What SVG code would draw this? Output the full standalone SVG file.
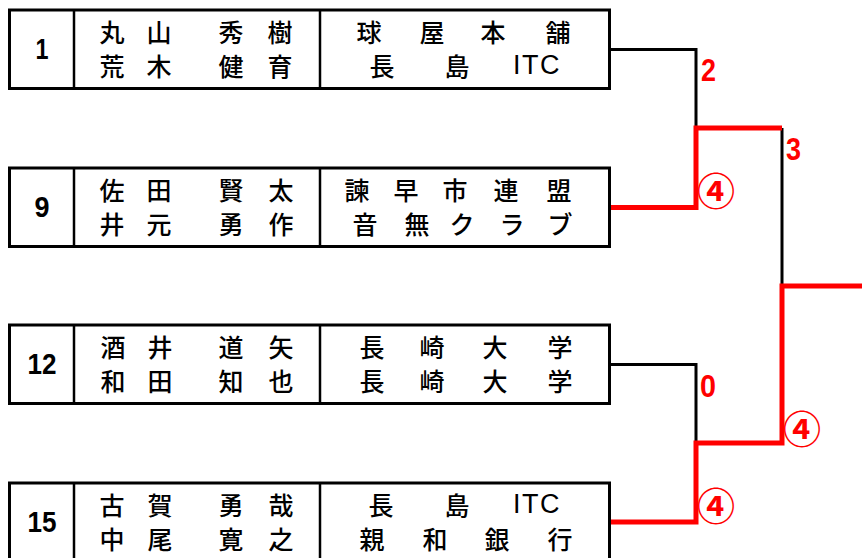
<svg xmlns="http://www.w3.org/2000/svg" width="862" height="558" viewBox="0 0 862 558">
<style>
.box{fill:#fff;stroke:#000;stroke-width:3}
.div{stroke:#000;stroke-width:2.5}
.jp{font-family:"Noto Sans CJK JP","Noto Sans CJK SC",sans-serif;font-size:25px;font-weight:500;fill:#000;text-anchor:middle;dominant-baseline:central}
.lat{font-family:"Liberation Sans",Arial,sans-serif;font-size:27px;font-weight:normal;letter-spacing:1.5px}
.num{font-family:"Liberation Sans",Arial,sans-serif;font-size:30px;font-weight:bold;fill:#000;text-anchor:middle;dominant-baseline:central}
.blk{fill:none;stroke:#000;stroke-width:3}
.red{fill:none;stroke:#f00;stroke-width:5}
.score{font-family:"Liberation Sans",Arial,sans-serif;font-size:31px;font-weight:bold;fill:#f00}
.circ{font-family:"Noto Sans CJK JP",sans-serif;font-size:38px;font-weight:bold;fill:#f00;text-anchor:middle;dominant-baseline:central}
</style>
<g id="connectors">
<polyline class="blk" points="610,49.5 696,49.5 696,128"/>
<polyline class="blk" points="782,128 782,286"/>
<polyline class="blk" points="610,364.5 696,364.5 696,443"/>
<polyline class="red" points="610,207.5 696,207.5 696,128 782,128"/>
<polyline class="red" points="610,522 696,522 696,443 782,443 782,286 862,286"/>
</g>
<g id="node-1">
<rect class="box" x="9.5" y="10" width="600" height="78.5"/>
<line class="div" x1="74" y1="10" x2="74" y2="88.5"/>
<line class="div" x1="320" y1="10" x2="320" y2="88.5"/>
<text class="num" x="42" y="48" textLength="13" lengthAdjust="spacingAndGlyphs">1</text>
<text class="jp" x="112 159 231 280" y="31">丸山秀樹</text>
<text class="jp" x="112 159 231 280" y="65">荒木健育</text>
<text class="jp" x="369 432 493 558" y="31">球屋本舗</text>
<text class="jp" y="65"><tspan x="382">長</tspan><tspan x="457">島</tspan><tspan x="537" class="lat">ITC</tspan></text>
</g>
<g id="node-9">
<rect class="box" x="9.5" y="168" width="600" height="78.5"/>
<line class="div" x1="74" y1="168" x2="74" y2="246.5"/>
<line class="div" x1="320" y1="168" x2="320" y2="246.5"/>
<text class="num" x="42" y="206" textLength="15" lengthAdjust="spacingAndGlyphs">9</text>
<text class="jp" x="112 159 231 281" y="189">佐田賢太</text>
<text class="jp" x="112 159 231 281" y="223">井元勇作</text>
<text class="jp" x="357 406 455 506 559" y="189">諫早市連盟</text>
<text class="jp" x="365 417 462 512 560" y="223">音無クラブ</text>
</g>
<g id="node-12">
<rect class="box" x="9.5" y="325" width="600" height="78.5"/>
<line class="div" x1="74" y1="325" x2="74" y2="403.5"/>
<line class="div" x1="320" y1="325" x2="320" y2="403.5"/>
<text class="num" x="42" y="363" textLength="29" lengthAdjust="spacingAndGlyphs">12</text>
<text class="jp" x="113 160 231 281" y="346">酒井道矢</text>
<text class="jp" x="113 160 231 281" y="380">和田知也</text>
<text class="jp" x="372 432 495 560" y="346">長崎大学</text>
<text class="jp" x="372 432 495 560" y="380">長崎大学</text>
</g>
<g id="node-15">
<rect class="box" x="9.5" y="483" width="600" height="80"/>
<line class="div" x1="74" y1="483" x2="74" y2="563"/>
<line class="div" x1="320" y1="483" x2="320" y2="563"/>
<text class="num" x="42" y="521" textLength="29" lengthAdjust="spacingAndGlyphs">15</text>
<text class="jp" x="112 160 231 281" y="504">古賀勇哉</text>
<text class="jp" x="112 160 231 281" y="538">中尾寛之</text>
<text class="jp" y="504"><tspan x="381">長</tspan><tspan x="457">島</tspan><tspan x="537" class="lat">ITC</tspan></text>
<text class="jp" x="372 435 497 560" y="538">親和銀行</text>
</g>
<g id="scores">
<text class="score" x="701" y="81" textLength="15" lengthAdjust="spacingAndGlyphs">2</text>
<text class="score" x="786" y="160" textLength="15" lengthAdjust="spacingAndGlyphs">3</text>
<text class="score" x="700" y="397" textLength="16" lengthAdjust="spacingAndGlyphs">0</text>
<text class="circ" x="716" y="188.5">④</text>
<text class="circ" x="802" y="426">④</text>
<text class="circ" x="716" y="503">④</text>
</g>
</svg>
